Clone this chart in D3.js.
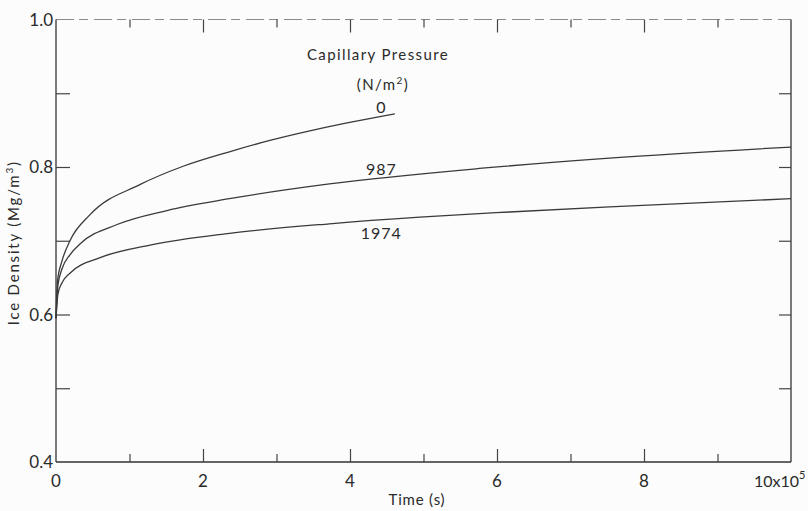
<!DOCTYPE html>
<html>
<head>
<meta charset="utf-8">
<script src="https://cdn.jsdelivr.net/npm/d3@7"></script>
<style>
    body { margin: 0; background: #fbfcfb; }
    svg { display: block; }
    text { font-family: Lato, "Noto Sans", sans-serif; fill: #2a2a2a; }
    .line { fill: none; stroke: #3a3a3a; stroke-width: 1.3; }
    .frame { stroke: #333; stroke-width: 1.3; }
    .tick line { stroke: #444; stroke-width: 1.2; }
</style>
</head>
<body>
<div id="chart"></div>
<script>
const WIDTH = 808;
const HEIGHT = 511;
const MARGIN = {top: 19.5, right: 17, bottom: 49, left: 56};

// time in units of 10^5 s, density in Mg/m^3
const time0 = [0, 0.02, 0.08, 0.19, 0.46, 1.14, 1.73, 2.37, 2.91, 3.59, 4.61];
const density0 = [0.595, 0.645, 0.672, 0.700, 0.735, 0.776, 0.801, 0.821, 0.836, 0.852, 0.872];

const time987 = [0, 0.027, 0.082, 0.19, 0.33, 0.83, 1.51, 2.36, 3.72, 5.76, 7.53, 10];
const density987 = [0.595, 0.640, 0.662, 0.681, 0.696, 0.722, 0.741, 0.757, 0.777, 0.798, 0.812, 0.827];

const time1974 = [0, 0.027, 0.082, 0.19, 0.6, 1.28, 2.36, 3.72, 4.95, 6.17, 7.53, 10];
const density1974 = [0.595, 0.628, 0.643, 0.656, 0.677, 0.694, 0.710, 0.723, 0.732, 0.739, 0.746, 0.757];

const pressures = ['0', '987', '1974'];
const labelTime = [4.44, 4.44, 4.44];
const labelDensity = [0.882, 0.797, 0.711];

const xMajor = [0, 2, 4, 6, 8, 10];
const xMinor = [1, 3, 5, 7, 9];
const xLabels = ['0', '2', '4', '6', '8'];
const yTicks = [0.4, 0.5, 0.6, 0.7, 0.8, 0.9, 1.0];
const yLabels = ['0.4', '0.6', '0.8', '1.0'];

const series = [
    {name: pressures[0], points: d3.zip(time0, density0)},
    {name: pressures[1], points: d3.zip(time987, density987)},
    {name: pressures[2], points: d3.zip(time1974, density1974)}
];

const x = d3.scaleLinear().domain([0, 10]).range([MARGIN.left, WIDTH - MARGIN.right]);
const y = d3.scaleLinear().domain([0.4, 1.0]).range([HEIGHT - MARGIN.bottom, MARGIN.top]);

const svg = d3.select('#chart').append('svg')
    .attr('width', WIDTH)
    .attr('height', HEIGHT);

const x0 = x.range()[0], x1 = x.range()[1];
const y0 = y.range()[0], y1 = y.range()[1];

// top border looks broken in the scan
svg.append('line')
    .attr('x1', x0).attr('x2', x1).attr('y1', y1).attr('y2', y1)
    .attr('stroke', '#8a8a8a').attr('stroke-width', 1)
    .attr('stroke-dasharray', '18,5,9,6');

svg.append('line').attr('class', 'frame')
    .attr('x1', x0).attr('x2', x0).attr('y1', y1).attr('y2', y0);
svg.append('line').attr('class', 'frame')
    .attr('x1', x1).attr('x2', x1).attr('y1', y1).attr('y2', y0);
svg.append('line').attr('class', 'frame')
    .attr('x1', x0).attr('x2', x1).attr('y1', y0).attr('y2', y0);

function ticks(axis, translate){
    const g = svg.append('g').attr('transform', translate).call(axis);
    g.select('.domain').remove();
    g.selectAll('text').remove();
    return g;
}

// inward ticks on all four sides
ticks(d3.axisBottom(x).tickValues(xMajor.slice(1, -1)).tickSize(-13).tickFormat(''), `translate(0,${y0})`);
ticks(d3.axisBottom(x).tickValues(xMinor).tickSize(-8).tickFormat(''), `translate(0,${y0})`);
ticks(d3.axisTop(x).tickValues(xMajor.slice(1, -1)).tickSize(-13).tickFormat(''), `translate(0,${y1})`);
ticks(d3.axisTop(x).tickValues(xMinor).tickSize(-8).tickFormat(''), `translate(0,${y1})`);
ticks(d3.axisLeft(y).tickValues(yTicks.slice(1, -1)).tickSize(-14).tickFormat(''), `translate(${x0},0)`);
ticks(d3.axisRight(y).tickValues(yTicks.slice(1, -1)).tickSize(-12).tickFormat(''), `translate(${x1},0)`);

// tick labels
svg.append('g').selectAll('text')
    .data(xLabels)
    .join('text')
    .attr('x', d => x(+d))
    .attr('y', y0 + 25)
    .attr('text-anchor', 'middle')
    .attr('font-size', 17)
    .text(d => d);

const tenLabel = svg.append('text')
    .attr('x', x(10) - 37)
    .attr('y', y0 + 25)
    .attr('font-size', 16)
    .text('10x10');
tenLabel.append('tspan')
    .attr('font-size', 11)
    .attr('dy', -8)
    .text('5');

svg.append('g').selectAll('text')
    .data(yLabels)
    .join('text')
    .attr('x', x0 - 3)
    .attr('y', d => y(+d) + 6)
    .attr('text-anchor', 'end')
    .attr('font-size', 17)
    .text(d => d);

// axis titles
svg.append('text')
    .attr('x', 417)
    .attr('y', HEIGHT - 6)
    .attr('text-anchor', 'middle')
    .attr('font-size', 15)
    .attr('letter-spacing', 0.8)
    .text('Time (s)');

const yTitle = svg.append('text')
    .attr('transform', `translate(19,${(y0 + y1) / 2 + 2}) rotate(-90)`)
    .attr('text-anchor', 'middle')
    .attr('font-size', 15)
    .attr('letter-spacing', 1.8)
    .text('Ice Density (Mg/m');
yTitle.append('tspan').attr('font-size', 10).attr('dy', -6).text('3');
yTitle.append('tspan').attr('dy', 6).text(')');

// curves
const line = d3.line()
    .x(d => x(d[0]))
    .y(d => y(d[1]))
    .curve(d3.curveMonotoneX);

svg.append('g').selectAll('path')
    .data(series)
    .join('path')
    .attr('class', 'line')
    .attr('d', d => line(d.points));

// legend heading and curve labels
svg.append('text')
    .attr('x', 378)
    .attr('y', 60)
    .attr('text-anchor', 'middle')
    .attr('font-size', 15)
    .attr('letter-spacing', 1.4)
    .text('Capillary Pressure');

const unit = svg.append('text')
    .attr('x', 383)
    .attr('y', 90)
    .attr('text-anchor', 'middle')
    .attr('font-size', 15)
    .attr('letter-spacing', 1.4)
    .text('(N/m');
unit.append('tspan').attr('font-size', 10).attr('dy', -6).text('2');
unit.append('tspan').attr('dy', 6).text(')');

svg.append('g').selectAll('text')
    .data(pressures)
    .join('text')
    .attr('x', (d, i) => x(labelTime[i]) - 1)
    .attr('y', (d, i) => y(labelDensity[i]) + 6)
    .attr('text-anchor', 'middle')
    .attr('font-size', 16)
    .attr('letter-spacing', 1)
    .text(d => d);
</script>
</body>
</html>
